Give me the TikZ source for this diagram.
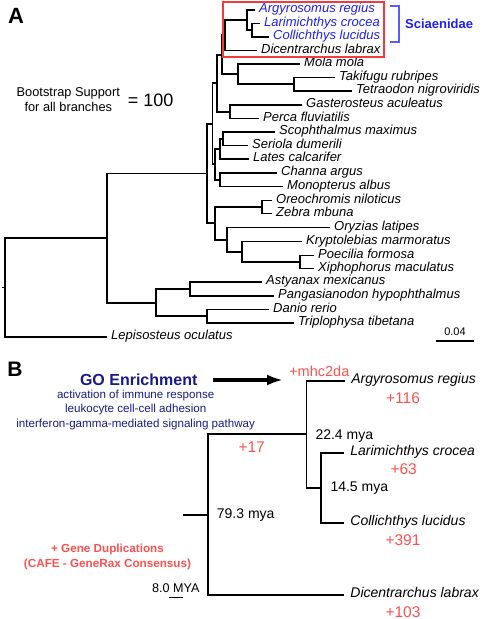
\documentclass[tikz,border=0pt]{standalone}
\usepackage{fontspec}
\setmainfont{Liberation Sans}
\usepackage{tikz}
\usetikzlibrary{arrows.meta, positioning, calc}
\usepackage{xcolor}
\definecolor{SciBlue}{HTML}{1E1EFF}
\definecolor{BracketBlue}{HTML}{5A5AFF}
\definecolor{BoxRed}{HTML}{F03C3C}
\definecolor{GainRed}{HTML}{FF5050}
\definecolor{GONavy}{HTML}{1A1A8C}

\begin{document}
\begin{tikzpicture}[
            x=1pt, y=-1pt,
            branch/.style={draw, line width=1.9pt},
            scalebar/.style={draw, line width=1.4pt},
            taxon/.style={
                anchor=west, inner xsep=4pt, inner ysep=1pt,
                text height=0.72em, text depth=0.2em,
                font=\fontsize{13}{15}\selectfont\itshape
            },
            sciae/.style={taxon, text=SciBlue},
            taxonB/.style={taxon, inner xsep=6.5pt, font=\fontsize{14}{16}\selectfont\itshape},
            gain/.style={text=GainRed, font=\fontsize{15.5}{17}\selectfont},
            age/.style={anchor=west, inner sep=0pt, font=\fontsize{14}{16}\selectfont},
            panel/.style={font=\fontsize{22}{24}\selectfont\bfseries},
            goarrow/.style={draw, line width=3.8pt, -{Latex[length=16pt, width=11pt]}},
            goterm/.style={align=center, text=GONavy, font=\fontsize{11.6}{14.7}\selectfont},
            dupnote/.style={align=center, text=GainRed, font=\fontsize{11.7}{15}\selectfont\bfseries}
        ]
        \useasboundingbox (0,0) rectangle (484,619);

        % --- Panel A: leaves ---
        \node[panel] (labA) at (16,16) {A};
        \node[sciae] (argA) at (255,10) {Argyrosomus regius};
        \node[sciae] (larA) at (260,23.5) {Larimichthys crocea};
        \node[sciae] (colA) at (269,37) {Collichthys lucidus};
        \node[taxon] (dicA) at (257,50.5) {Dicentrarchus labrax};
        \node[taxon] (molA) at (300,64) {Mola mola};
        \node[taxon] (takA) at (335,77.5) {Takifugu rubripes};
        \node[taxon] (tetA) at (352,91) {Tetraodon nigroviridis};
        \node[taxon] (gasA) at (302,105) {Gasterosteus aculeatus};
        \node[taxon] (perA) at (259,118.5) {Perca fluviatilis};
        \node[taxon] (scoA) at (275,132) {Scophthalmus maximus};
        \node[taxon] (serA) at (248,145.5) {Seriola dumerili};
        \node[taxon] (latA) at (249,159) {Lates calcarifer};
        \node[taxon] (chaA) at (277,173) {Channa argus};
        \node[taxon] (monA) at (283,186.5) {Monopterus albus};
        \node[taxon] (oreA) at (272,200.5) {Oreochromis niloticus};
        \node[taxon] (zebA) at (272,213.5) {Zebra mbuna};
        \node[taxon] (oryA) at (330,227.5) {Oryzias latipes};
        \node[taxon] (kryA) at (302,241.5) {Kryptolebias marmoratus};
        \node[taxon] (poeA) at (314,255.5) {Poecilia formosa};
        \node[taxon] (xipA) at (314,268.5) {Xiphophorus maculatus};
        \node[taxon] (astA) at (262,282) {Astyanax mexicanus};
        \node[taxon] (panA) at (274,296) {Pangasianodon hypophthalmus};
        \node[taxon] (danA) at (269,309.5) {Danio rerio};
        \node[taxon] (triA) at (294,323) {Triplophysa tibetana};
        \node[taxon] (lepA) at (107,337) {Lepisosteus oculatus};

        % --- Panel A: internal nodes ---
        \coordinate (nLC) at (252,30.25);
        \coordinate (nSci) at (247,20.1);
        \coordinate (nSD) at (225,35.3);
        \coordinate (nTT) at (294,84.25);
        \coordinate (nMT) at (238,74.1);
        \coordinate (nUp1) at (222,54.7);
        \coordinate (nGP) at (230,111.75);
        \coordinate (nUp2) at (217,83.2);
        \coordinate (nSS) at (223.3,138.75);
        \coordinate (nSSL) at (220,148.9);
        \coordinate (nCM) at (220,179.75);
        \coordinate (nMid) at (215,164.3);
        \coordinate (nUp3) at (212.5,123.75);
        \coordinate (nOZ) at (262,207);
        \coordinate (nPX) at (300,262);
        \coordinate (nKPX) at (242,251.75);
        \coordinate (nOKPX) at (227,239.6);
        \coordinate (nLow) at (215,223.3);
        \coordinate (nPerc) at (207,173.5);
        \coordinate (nAP) at (190,289);
        \coordinate (nDT) at (207,316.25);
        \coordinate (nOst) at (156,302.6);
        \coordinate (nTel) at (107,238);
        \coordinate (nRoot) at (5,287.5);
        \coordinate (rootA) at (1.5,287.5);

        % --- Panel A: branches ---
        \path[branch] (larA.west) -| (nLC) |- (colA.west);
        \path[branch] (argA.west) -| (nSci) |- (nLC);
        \path[branch] (nSci) -| (nSD) |- (dicA.west);
        \path[branch] (takA.west) -| (nTT) |- (tetA.west);
        \path[branch] (molA.west) -| (nMT) |- (nTT);
        \path[branch] (nSD) -| (nUp1) |- (nMT);
        \path[branch] (gasA.west) -| (nGP) |- (perA.west);
        \path[branch] (nUp1) -| (nUp2) |- (nGP);
        \path[branch] (scoA.west) -| (nSS) |- (serA.west);
        \path[branch] (nSS) -| (nSSL) |- (latA.west);
        \path[branch] (chaA.west) -| (nCM) |- (monA.west);
        \path[branch] (nSSL) -| (nMid) |- (nCM);
        \path[branch] (nUp2) -| (nUp3) |- (nMid);
        \path[branch] (oreA.west) -| (nOZ) |- (zebA.west);
        \path[branch] (poeA.west) -| (nPX) |- (xipA.west);
        \path[branch] (kryA.west) -| (nKPX) |- (nPX);
        \path[branch] (oryA.west) -| (nOKPX) |- (nKPX);
        \path[branch] (nOZ) -| (nLow) |- (nOKPX);
        \path[branch] (nUp3) -| (nPerc) |- (nLow);
        \path[branch] (astA.west) -| (nAP) |- (panA.west);
        \path[branch] (danA.west) -| (nDT) |- (triA.west);
        \path[branch] (nAP) -| (nOst) |- (nDT);
        \path[branch] (nPerc) -| (nTel) |- (nOst);
        \path[branch] (nTel) -| (nRoot) |- (lepA.west);
        \path[branch] (rootA) -- (nRoot);

        % --- Panel A: Sciaenidae box and bracket ---
        \draw[BoxRed, line width=1.5pt] (223,2) rectangle (384,57);
        \draw[BracketBlue, line width=1.5pt] (390,6) -- (399,6) -- (399,42) -- (390,42);
        \node[anchor=west, inner sep=0pt, text=SciBlue, font=\fontsize{13}{15}\selectfont\bfseries] (sciLab) at (405,24.3) {Sciaenidae};

        % --- Panel A: notes and scale ---
        \node[align=center, font=\fontsize{12.8}{15.6}\selectfont] (bootLab) at (68.3,99.5) {Bootstrap Support\\for all branches};
        \node[font=\fontsize{18}{20}\selectfont] (bootVal) at (150.7,100) {= 100};
        \coordinate (sbL) at (436,341);
        \coordinate (sbR) at (474,341);
        \path[scalebar] (sbL) -- node[above=1pt, font=\fontsize{11}{13}\selectfont] {0.04} (sbR);

        % --- Panel B: GO enrichment ---
        \node[panel, font=\fontsize{21}{23}\selectfont\bfseries] (labB) at (15,369) {B};
        \node[text=GONavy, font=\fontsize{16}{18}\selectfont\bfseries] (goTitle) at (138.7,379.3) {GO Enrichment};
        \node[goterm] (goTerms) at (135.7,409.8) {activation of immune response\\leukocyte cell-cell adhesion\\interferon-gamma-mediated signaling pathway};
        \coordinate (goFrom) at (213,380);
        \coordinate (goTo) at (283,380);
        \path[goarrow] (goFrom) -- (goTo);

        % --- Panel B: leaves ---
        \node[taxonB] (argB) at (344.7,380.7) {Argyrosomus regius};
        \node[taxonB] (larB) at (343.7,452.7) {Larimichthys crocea};
        \node[taxonB] (colB) at (343.7,523.3) {Collichthys lucidus};
        \node[taxonB] (dicB) at (343.7,595) {Dicentrarchus labrax};

        % --- Panel B: internal nodes ---
        \coordinate (bLC) at (321,488);
        \coordinate (bSci) at (306.5,434.35);
        \coordinate (bRoot) at (208.3,514.7);
        \coordinate (rootB) at (183.3,514.7);

        % --- Panel B: branches ---
        \path[branch] (larB.west) -| (bLC) |- (colB.west);
        \path[branch] (argB.west) -| (bSci) |- (bLC);
        \path[branch] (bSci) -| (bRoot) |- (dicB.west);
        \path[branch] (rootB) -- (bRoot);

        % --- Panel B: gains and ages ---
        \node[gain, font=\fontsize{14.5}{16}\selectfont] (mhcLab) at (319.3,371.7) {+mhc2da};
        \node[gain] (gainArg) at (403,398.3) {+116};
        \node[gain] (gainLar) at (403.7,469.3) {+63};
        \node[gain] (gainCol) at (403,540) {+391};
        \node[gain] (gainDic) at (403,611.7) {+103};
        \node[gain] (gainSci) at (251.7,446.7) {+17};
        \node[age] (ageSci) at (315.3,436) {22.4 mya};
        \node[age] (ageLC) at (330.3,488.3) {14.5 mya};
        \node[age] (ageRoot) at (216.7,515) {79.3 mya};

        % --- Panel B: legend and time scale ---
        \node[dupnote] (dupLab) at (107.5,557) {+ Gene Duplications\\(CAFE - GeneRax Consensus)};
        \node[font=\fontsize{12.6}{14}\selectfont] (myaLab) at (175.8,587.7) {8.0 MYA};
        \coordinate (myaL) at (169.3,597.3);
        \coordinate (myaR) at (183.3,597.3);
        \path[scalebar] (myaL) -- (myaR);

        \end{tikzpicture}
\end{document}
